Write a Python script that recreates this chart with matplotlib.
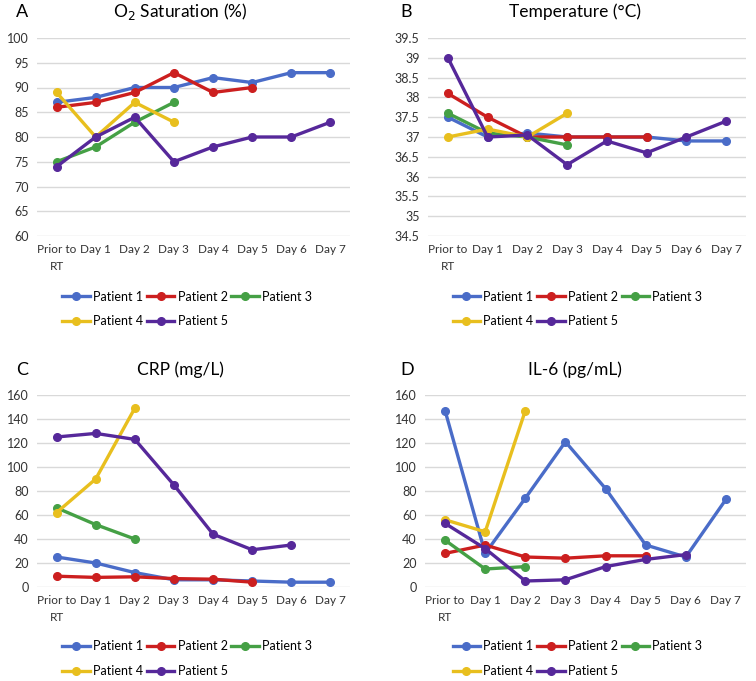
import matplotlib
matplotlib.use("Agg")
import matplotlib.pyplot as plt
import numpy as np

plt.rcParams['font.family'] = ['Lato', 'DejaVu Sans']

days = ["Prior to\nRT", "Day 1", "Day 2", "Day 3", "Day 4", "Day 5", "Day 6", "Day 7"]
patients = ["Patient 1", "Patient 2", "Patient 3", "Patient 4", "Patient 5"]
colors = ["#4a6cc8", "#cc1f1f", "#45a045", "#e8bf1e", "#56289a"]

# O2 saturation (%)
o2_p1 = [87, 88, 90, 90, 92, 91, 93, 93]
o2_p2 = [86, 87, 89, 93, 89, 90]
o2_p3 = [75, 78, 83, 87]
o2_p4 = [89, 80, 87, 83]
o2_p5 = [74, 80, 84, 75, 78, 80, 80, 83]

# temperature (C)
temp_p1 = [37.5, 37.0, 37.1, 37.0, 37.0, 37.0, 36.9, 36.9]
temp_p2 = [38.1, 37.5, 37.0, 37.0, 37.0, 37.0]
temp_p3 = [37.6, 37.1, 37.0, 36.8]
temp_p4 = [37.0, 37.2, 37.0, 37.6]
temp_p5 = [39.0, 37.0, 37.05, 36.3, 36.9, 36.6, 37.0, 37.4]

# CRP (mg/L)
crp_p1 = [25, 20, 12, 6, 6, 5, 4, 4]
crp_p2 = [9, 8, 8.5, 7, 6.5, 4]
crp_p3 = [66, 52, 40]
crp_p4 = [62, 90, 149]
crp_p5 = [125, 128, 123, 85, 44, 31, 35]

# IL-6 (pg/mL)
il6_p1 = [147, 28, 74, 121, 82, 35, 25, 73]
il6_p2 = [28, 35, 25, 24, 26, 26]
il6_p3 = [39, 15, 17]
il6_p4 = [56, 46, 147]
il6_p5 = [53, 32, 5, 6, 17, 23, 27]

W, H = 756, 681
fig = plt.figure(figsize=(W / 100, H / 100), dpi=100)


def px_axes(x0, x1, ytop, ybot):
    return fig.add_axes([x0 / W, 1 - ybot / H, (x1 - x0) / W, (ybot - ytop) / H])


def panel(ax, series, letter, title, yticks, ylabels, letter_x, title_x, title_y, leg_x):
    for vals, c in zip(series, colors):
        ax.plot(range(len(vals)), vals, color=c, lw=2.4, marker="o", ms=5.5,
                mec=c, mfc=c, clip_on=False)
    ax.set_xlim(-0.5, 7.5)
    ax.set_ylim(yticks[0], yticks[-1])
    ax.set_yticks(yticks)
    ax.set_yticklabels(ylabels, fontsize=9, color="#333333")
    ax.set_xticks(range(8))
    ax.set_xticklabels(days, fontsize=8.5, color="#333333", linespacing=1.6,
                       multialignment="center")
    ax.tick_params(length=0, pad=6)
    ax.grid(axis="y", color="#d9d9d9", lw=1)
    ax.set_axisbelow(True)
    for s in ax.spines.values():
        s.set_visible(False)
    fig.text(letter_x / W, 1 - title_y / H, letter, fontsize=13, va="center")
    fig.text(title_x / W, 1 - title_y / H, title, fontsize=12.5, ha="center", va="center")
    h = ax.get_lines()
    order = [0, 3, 1, 4, 2]
    ax.legend([h[i] for i in order], [patients[i] for i in order], ncol=3,
              loc="upper center", bbox_to_anchor=(leg_x, -0.22), frameon=False,
              fontsize=9, handlelength=2.2, columnspacing=0.3, handletextpad=0.25,
              labelspacing=1.0)


axA = px_axes(37, 350, 38, 236)
panel(axA, [o2_p1, o2_p2, o2_p3, o2_p4, o2_p5], "A", "O$_2$ Saturation (%)",
      list(range(60, 101, 5)), [str(v) for v in range(60, 101, 5)], 16, 180, 12, 0.48)

tt = np.arange(34.5, 39.51, 0.5)
axB = px_axes(428, 746, 38, 236)
panel(axB, [temp_p1, temp_p2, temp_p3, temp_p4, temp_p5], "B", "Temperature (°C)",
      list(tt), ["%g" % v for v in tt], 400, 575, 12, 0.47)

axC = px_axes(37, 350, 395, 587)
panel(axC, [crp_p1, crp_p2, crp_p3, crp_p4, crp_p5], "C", "CRP (mg/L)",
      list(range(0, 161, 20)), [str(v) for v in range(0, 161, 20)], 16, 180, 370, 0.48)

axD = px_axes(425, 746, 395, 587)
panel(axD, [il6_p1, il6_p2, il6_p3, il6_p4, il6_p5], "D", "IL-6 (pg/mL)",
      list(range(0, 161, 20)), [str(v) for v in range(0, 161, 20)], 400, 575, 370, 0.475)

fig.savefig("out.png", dpi=100)
